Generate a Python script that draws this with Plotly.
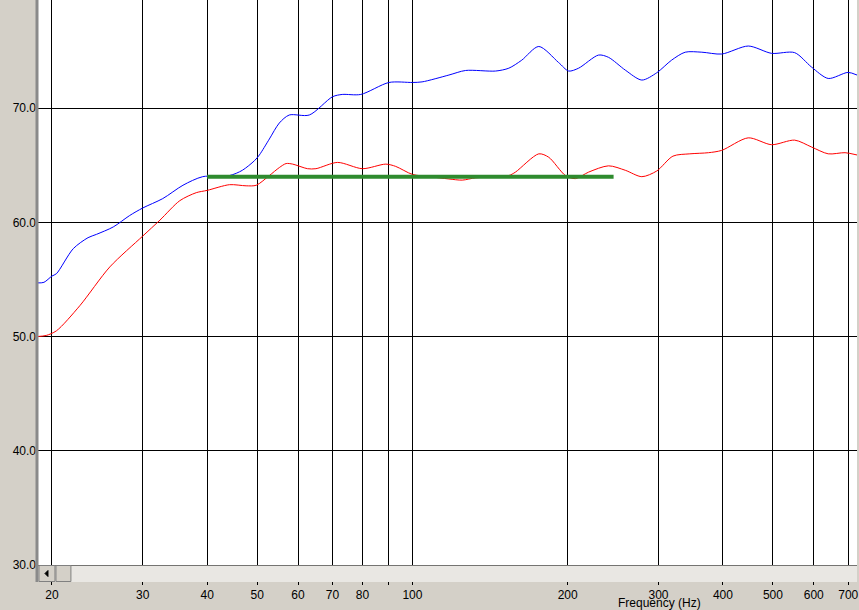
import plotly.graph_objects as go

# frequency response curves (Hz, dB)
blue_freq = [18.7, 19.3, 20.0, 20.4, 22.0, 23.5, 24.4, 26.3, 28.3, 30.0, 32.8, 35.9, 39.2,
             44.2, 46.8, 49.4, 50.5, 52.8, 55.2, 57.7, 63.1, 70.0, 73.1, 79.4, 90.1, 100.0,
             104.4, 117.7, 126.8, 145.0, 153.8, 162.9, 175.8, 192.0, 200.9, 210.0, 229.6,
             240.0, 258.7, 278.5, 297.7, 318.0, 338.0, 364.0, 398.0, 448.0, 497.0, 551.0,
             594.0, 640.0, 699.0, 728.0]
blue_db = [54.7, 54.75, 55.3, 55.5, 57.7, 58.66, 58.95, 59.6, 60.6, 61.26, 62.08, 63.25, 64.0,
           64.1, 64.56, 65.4, 65.9, 67.3, 68.7, 69.4, 69.4, 71.0, 71.2, 71.2, 72.25, 72.25,
           72.3, 72.9, 73.3, 73.25, 73.5, 74.2, 75.4, 74.0, 73.25, 73.5, 74.65,
           74.45, 73.33, 72.46, 73.1, 74.2, 74.9, 74.9, 74.74, 75.44, 74.8, 74.86,
           73.6, 72.6, 73.13, 72.9]

red_freq = [18.7, 19.5, 20.4, 22.65, 25.9, 30.0, 32.4, 35.4, 38.1, 40.0, 44.2, 47.6, 49.8,
            52.8, 55.2, 56.9, 58.6, 62.6, 65.0, 71.6, 80.0, 88.8, 92.8, 100.0, 108.0, 117.7,
            124.9, 132.6, 145.0, 153.8, 158.4, 175.8, 183.8, 198.0, 207.0, 219.6, 240.0,
            258.7, 278.5, 297.7, 320.0, 345.0, 375.0, 397.6, 447.8, 497.0, 551.0, 594.0,
            640.0, 690.0, 728.0]
red_db = [50.0, 50.1, 50.5, 52.7, 56.1, 58.8, 60.2, 61.9, 62.6, 62.8, 63.3, 63.2, 63.25,
          64.1, 64.8, 65.15, 65.1, 64.7, 64.7, 65.25, 64.7, 65.1, 64.9, 64.2, 64.0, 63.8,
          63.7, 63.9, 64.0, 64.1, 64.4, 66.0, 65.7, 64.1, 63.83, 64.4, 64.95,
          64.56, 64.0, 64.5, 65.8, 66.0, 66.1, 66.3, 67.4, 66.8, 67.2, 66.6,
          66.0, 66.1, 65.9]

target_freq = [40.0, 245.5]
target_db = [64.0, 64.0]

x_ticks = [20, 30, 40, 50, 60, 70, 80, 90, 100, 200, 300, 400, 500, 600, 700]
x_labels = ["20", "30", "40", "50", "60", "70", "80", "", "100", "200", "300", "400",
            "500", "600", "700"]
y_ticks = [30, 40, 50, 60, 70]
y_labels = ["30.0", "40.0", "50.0", "60.0", "70.0"]

W, H = 859, 610
L, B = 37, 45
PW, PH = W - L, H - B


def px_x(x):
    return (x - L) / PW


def px_y(y):
    return (PH - y) / PH


fig = go.Figure()
fig.add_trace(go.Scatter(x=red_freq, y=red_db, mode="lines",
                         line=dict(color="#ff0000", width=1, shape="spline", smoothing=0.8)))
fig.add_trace(go.Scatter(x=blue_freq, y=blue_db, mode="lines",
                         line=dict(color="#0000ff", width=1, shape="spline", smoothing=0.8)))
fig.add_trace(go.Scatter(x=target_freq, y=target_db, mode="lines",
                         line=dict(color="#2e8b2e", width=4)))

font = dict(family="Liberation Sans, Arial, sans-serif", size=12, color="#000000")

# scroll bar strip under the plot, with arrow button and thumb
shapes = [
    dict(type="rect", xref="paper", yref="paper", x0=px_x(37), x1=px_x(859),
         y0=px_y(565.5), y1=px_y(582), fillcolor="#e9e7e3", line=dict(width=0), layer="above"),
    dict(type="rect", xref="paper", yref="paper", x0=px_x(39), x1=px_x(55),
         y0=px_y(565.5), y1=px_y(581.5), fillcolor="#d4d0c8",
         line=dict(color="#808080", width=1), layer="above"),
    dict(type="rect", xref="paper", yref="paper", x0=px_x(56), x1=px_x(71),
         y0=px_y(565.5), y1=px_y(581.5), fillcolor="#d4d0c8",
         line=dict(color="#808080", width=1), layer="above"),
    dict(type="path", xref="paper", yref="paper",
         path=f"M {px_x(45)} {px_y(573.5)} L {px_x(48)} {px_y(570.5)} "
              f"L {px_x(48)} {px_y(576.5)} Z",
         fillcolor="#000000", line=dict(color="#000000", width=1), layer="above"),
    dict(type="line", xref="paper", yref="paper", x0=px_x(37), x1=px_x(37),
         y0=px_y(0), y1=px_y(582), line=dict(color="#8a8a8a", width=3), layer="above"),
]

fig.update_layout(
    width=W, height=H,
    margin=dict(l=L, r=0, t=0, b=B, pad=0),
    paper_bgcolor="#d4d0c8", plot_bgcolor="#ffffff",
    showlegend=False, font=font, shapes=shapes,
    annotations=[dict(text="Frequency (Hz)", xref="paper", yref="paper",
                      x=px_x(661), y=px_y(603), showarrow=False,
                      xanchor="center", yanchor="middle", font=font)],
)
fig.update_xaxes(type="log", range=[1.2721, 2.8620], tickvals=x_ticks, ticktext=x_labels,
                 showgrid=True, gridcolor="#000000", gridwidth=1,
                 ticks="outside", ticklen=19, tickcolor="#000000", tickwidth=1,
                 ticklabeloverflow="allow",
                 showline=True, linecolor="#000000", linewidth=1,
                 zeroline=False, tickfont=font)
fig.update_yaxes(range=[30, 79.47], tickvals=y_ticks, ticktext=y_labels,
                 showgrid=True, gridcolor="#000000", gridwidth=1,
                 ticks="", zeroline=False, showline=False, tickfont=font)

# the page's default 8px body margin would push the figure off the window
fig.write_html("out.html", config={"displayModeBar": False},
               post_script="document.body.style.margin='0';")
